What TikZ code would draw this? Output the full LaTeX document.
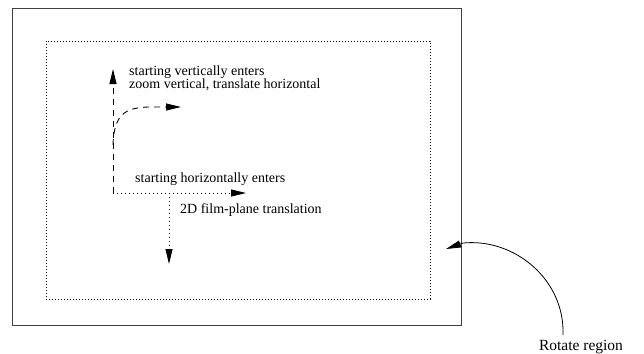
\documentclass[tikz,border=0pt]{standalone}
\usepackage{fontspec}
\setmainfont{Liberation Serif}
\usetikzlibrary{arrows.meta}
\begin{document}
\begin{tikzpicture}[x=1pt,y=-1pt,
  lbl/.style={anchor=west,inner sep=0pt,font=\fontsize{14}{15}\selectfont},
  tip/.style={-{Triangle[length=15pt,width=7pt]}},
  dsh/.style={dash pattern=on 6pt off 5pt,line width=0.9pt},
  dts/.style={dash pattern=on 1pt off 3pt,line width=0.9pt}]
\useasboundingbox (0,0) rectangle (644,353);
\draw[line width=1pt,draw=black!75] (12,9) rectangle (461,325);
\draw[dash pattern=on 1pt off 2pt,line width=0.8pt] (46,41) rectangle (430,299);
% vertical dashed arrow
\coordinate (vs) at (113,193);
\coordinate (vt) at (113,69);
\coordinate (cs) at (113,145);
\coordinate (ct) at (181,107);
\draw[dsh,tip] (vs) -- (vt);
\draw[dsh,tip] (cs) .. controls (114,114) and (125,108) .. (148,107) -- (ct);
\node[lbl] (t1) at (129,72) {starting vertically enters};
\node[lbl] (t2) at (129,85) {zoom vertical, translate horizontal};
% dotted arrows
\coordinate (hs) at (113,193);
\coordinate (ht) at (246,193);
\coordinate (ds) at (169,193);
\coordinate (dt) at (169,264);
\draw[dts,tip] (hs) -- (ht);
\draw[dts,tip] (ds) -- (dt);
\node[lbl] (t3) at (135,179) {starting horizontally enters};
\node[lbl] (t4) at (180,210) {2D film-plane translation};
% rotate
\node[lbl,anchor=center,font=\fontsize{15.5}{17}\selectfont] (rot) at (581,347) {Rotate region};
\coordinate (ra) at (446,249);
\draw[line width=0.8pt,tip] (563,335) .. controls (565,280) and (515,238) .. (463,243) -- (ra);
\end{tikzpicture}
\end{document}
